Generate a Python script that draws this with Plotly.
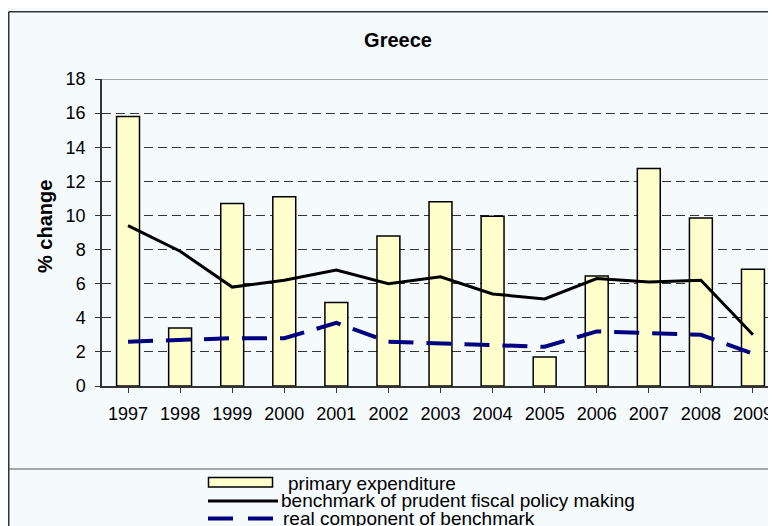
import plotly.graph_objects as go

years = ["1997", "1998", "1999", "2000", "2001", "2002", "2003",
         "2004", "2005", "2006", "2007", "2008", "2009"]
primary_expenditure = [15.8, 3.4, 10.7, 11.1, 4.9, 8.8, 10.8, 9.95, 1.7, 6.45, 12.75, 9.85, 6.85]
benchmark = [9.4, 7.9, 5.8, 6.2, 6.8, 6.0, 6.4, 5.4, 5.1, 6.3, 6.1, 6.2, 3.0]
real_component = [2.6, 2.7, 2.8, 2.8, 3.7, 2.6, 2.5, 2.4, 2.3, 3.2, 3.1, 3.0, 1.9]
y_ticks = [0, 2, 4, 6, 8, 10, 12, 14, 16, 18]
series_names = ["primary expenditure", "benchmark of prudent fiscal policy making",
                "real component of benchmark"]

# the page body adds an 8px offset; work in screen (reference) pixels
OFF = 8
CAT = 52.1
W, H = 790, 545
L = 102 - OFF                      # plot left in figure px
PW = round(CAT * 13)               # plot width
R = W - L - PW
T = 79 - OFF
PH = 386 - 79
B = H - T - PH

BG = "#F5FAFD"
FONT = "Liberation Sans, Arial, sans-serif"


def px(x):
    """screen x -> paper x"""
    return (x - OFF - L) / PW


def py(y):
    """screen y -> paper y"""
    return (T + PH - (y - OFF)) / PH


fig = go.Figure()
fig.add_trace(go.Bar(x=list(range(len(years))), y=primary_expenditure, name=series_names[0],
                     marker=dict(color="#FFFFCC", line=dict(color="#000000", width=1.5))))
fig.add_trace(go.Scatter(x=list(range(len(years))), y=benchmark, name=series_names[1], mode="lines",
                         line=dict(color="#000000", width=3)))
fig.add_trace(go.Scatter(x=list(range(len(years))), y=real_component, name=series_names[2], mode="lines",
                         line=dict(color="#000080", width=4, dash="25px,13px")))

shapes = []
# solid top line of plot area (18)
shapes.append(dict(type="line", xref="paper", yref="y", x0=0, x1=1, y0=18, y1=18,
                   line=dict(color="#8A8A8A", width=1.5), layer="above"))
# outer frame (left and top)
shapes.append(dict(type="line", xref="paper", yref="paper", x0=px(8.75), x1=px(W + 20), y0=py(11.75), y1=py(11.75),
                   line=dict(color="#333333", width=1.5)))
shapes.append(dict(type="line", xref="paper", yref="paper", x0=px(8.75), x1=px(8.75), y0=py(11.75), y1=py(H + 20),
                   line=dict(color="#333333", width=1.5)))
# legend separator
shapes.append(dict(type="line", xref="paper", yref="paper", x0=px(8.75), x1=px(W + 20), y0=py(469), y1=py(469),
                   line=dict(color="#555555", width=1.2)))
# legend symbols
shapes.append(dict(type="rect", xref="paper", yref="paper", x0=px(208.5), x1=px(272.5), y0=py(477.5), y1=py(487),
                   fillcolor="#FFFFCC", line=dict(color="#000000", width=1.5)))
shapes.append(dict(type="line", xref="paper", yref="paper", x0=px(208), x1=px(278), y0=py(501), y1=py(501),
                   line=dict(color="#000000", width=3)))
shapes.append(dict(type="line", xref="paper", yref="paper", x0=px(208), x1=px(273), y0=py(518.5), y1=py(518.5),
                   line=dict(color="#000080", width=4, dash="25px,15px")))

annotations = []
leg_pos = [(286, 483), (279, 500), (281, 518)]
for name, (lx, ly) in zip(series_names, leg_pos):
    annotations.append(dict(text=name, xref="paper", yref="paper", x=px(lx), y=py(ly),
                            xanchor="left", yanchor="middle", showarrow=False,
                            font=dict(family=FONT, size=19, color="#000000")))
annotations.append(dict(text="<b>% change</b>", xref="paper", yref="paper", x=px(45), y=py(227),
                        xanchor="center", yanchor="middle", textangle=-90, showarrow=False,
                        font=dict(family=FONT, size=20, color="#000000")))

fig.update_layout(
    width=W, height=H,
    margin=dict(l=L, r=R, t=T, b=B, autoexpand=False),
    paper_bgcolor=BG, plot_bgcolor=BG,
    showlegend=False,
    bargap=0.56,
    title=dict(text="<b>Greece</b>", x=(398 - OFF) / W, xanchor="center",
               y=1 - (40 - OFF) / H, yanchor="middle",
               xref="container", yref="container",
               font=dict(family=FONT, size=20, color="#000000")),
    shapes=shapes,
    annotations=annotations,
    font=dict(family=FONT, size=18, color="#000000"),
)

fig.update_xaxes(
    range=[-0.5, 12.5],
    tickmode="array", tickvals=list(range(len(years))), ticktext=years,
    ticks="outside", ticklen=5, tickcolor="#333333", tickwidth=1.2,
    tickson="boundaries",
    showline=True, linecolor="#333333", linewidth=1.5,
    showgrid=False, zeroline=False,
    tickfont=dict(family=FONT, size=18, color="#000000"),
    ticklabelstandoff=6,
)
fig.update_yaxes(
    range=[0, 18],
    tickmode="array", tickvals=y_ticks, ticktext=[str(v) for v in y_ticks],
    ticks="outside", ticklen=5, tickcolor="#333333", tickwidth=1.2,
    showline=True, linecolor="#333333", linewidth=1.5,
    showgrid=True, gridcolor="#333333", gridwidth=1, griddash="9px,5px",
    zeroline=False,
    tickfont=dict(family=FONT, size=18, color="#000000"),
    ticklabelstandoff=6,
)

fig.write_html("out.html")
